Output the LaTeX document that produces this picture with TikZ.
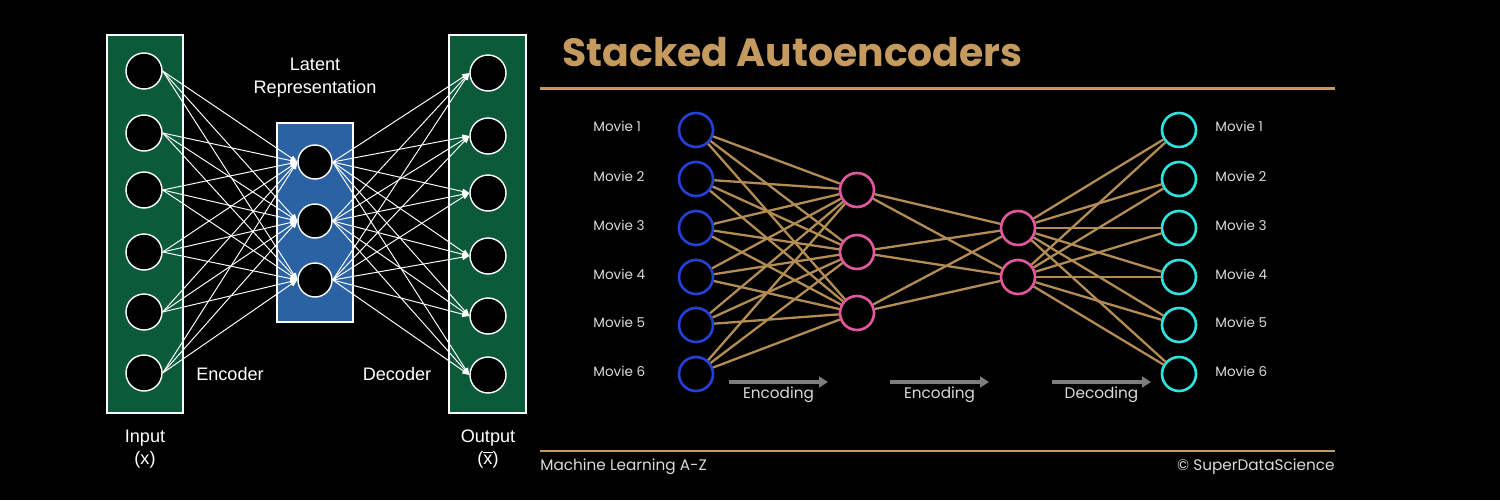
\documentclass[tikz,border=0pt]{standalone}
\usepackage{fontspec}
\newfontfamily\netfont{Liberation Sans}
\newfontfamily\slidefont{Poppins}
\usetikzlibrary{arrows.meta,positioning}
\definecolor{netgreen}{HTML}{0B5B3B}
\definecolor{netblue}{HTML}{2B62A3}
\definecolor{gold}{HTML}{C49A5E}
\definecolor{wire}{HTML}{B48D55}
\definecolor{movblue}{HTML}{2440D6}
\definecolor{hidpink}{HTML}{E2589E}
\definecolor{outcyan}{HTML}{2EE3DE}
\definecolor{slidegray}{HTML}{DADADA}
\definecolor{arrgray}{HTML}{7E7E7E}

\begin{document}
\begin{tikzpicture}[
  x=0.02cm, y=-0.02cm,
  lnode/.style={circle, draw=white, line width=0.8pt, fill=black,
                minimum size=0.72cm, inner sep=0pt},
  layer/.style={draw=white, line width=0.6pt},
  lwire/.style={white, line width=0.55pt, -{Triangle[length=4pt, width=3.2pt]}},
  ltext/.style={text=white, font=\netfont\fontsize{10.3}{12}\selectfont,
                inner sep=0pt, anchor=base},
  rnode/.style={circle, line width=1.5pt, fill=black,
                minimum size=0.68cm, inner sep=0pt},
  rwire/.style={wire, line width=1.3pt},
  mtext/.style={text=slidegray, font=\slidefont\fontsize{7.7}{9}\selectfont,
                inner sep=0pt, anchor=base west},
  ctext/.style={text=slidegray, font=\slidefont\fontsize{8.7}{10}\selectfont,
                inner sep=0pt, anchor=base},
  flow/.style={arrgray, line width=1.9pt, -{Triangle[length=5pt, width=6pt]}}]
\fill[black] (0,0) rectangle (1500,500);
\useasboundingbox (0,0) rectangle (1500,500);

% plain autoencoder
\draw[layer, fill=netgreen] (107,35) rectangle (183,413);
\draw[layer, fill=netblue] (277,123) rectangle (353,322);
\draw[layer, fill=netgreen] (449,35) rectangle (526,413);
\foreach \i/\y in {1/71, 2/133, 3/190, 4/252, 5/312, 6/373}
  \node[lnode] (in\i) at (144,\y) {};
\foreach \i/\y in {1/73, 2/136, 3/193, 4/256, 5/316, 6/375}
  \node[lnode] (out\i) at (488,\y) {};
\foreach \j/\y in {1/162, 2/221, 3/280}
  \node[lnode, minimum size=0.68cm] (lat\j) at (315,\y) {};
\foreach \i in {1,...,6}
  \foreach \j in {1,2,3} {
    \draw[lwire] (in\i.east) -- (lat\j.west);
    \draw[lwire] (lat\j.east) -- (out\i.west);
  }
\node[ltext] (latent) at (315,71) {Latent};
\node[ltext] (repr) at (315,93) {Representation};
\node[ltext] (enc) at (230,380) {Encoder};
\node[ltext] (dec) at (397,380) {Decoder};
\node[ltext] (inlab) at (145,442) {Input};
\node[ltext] (inx) at (145,464) {(x)};
\node[ltext] (outlab) at (488,442) {Output};
\node[ltext] (outx) at (488,464) {($\overline{\mbox{x}}$)};

% stacked autoencoder slide
\node[text=gold, font=\slidefont\bfseries\fontsize{22.4}{26}\selectfont,
      inner sep=0pt, anchor=base west] (title) at (562,67) {Stacked Autoencoders};
\draw[gold, line width=2.2pt] (540,88.5) -- (1335,88.5);
\draw[gold, line width=1pt] (540,451) -- (1335,451);
\node[text=slidegray, font=\slidefont\fontsize{8.7}{10}\selectfont,
      inner sep=0pt, anchor=base west] (course) at (540,470) {Machine Learning A-Z};
\node[text=slidegray, font=\slidefont\fontsize{8.7}{10}\selectfont,
      inner sep=0pt, anchor=base east] (brand) at (1335,470) {\textcopyright{} SuperDataScience};

\foreach \i/\y in {1/130, 2/179, 3/228, 4/277, 5/325, 6/374} {
  \node[rnode, draw=movblue] (mv\i) at (696,\y) {};
  \node[rnode, draw=outcyan] (rc\i) at (1179,\y) {};
  \node[mtext] (ml\i) at (593,\y+2) {Movie \i};
  \node[mtext] (mr\i) at (1215,\y+2) {Movie \i};
}
\foreach \j/\y in {1/190, 2/252, 3/313}
  \node[rnode, draw=hidpink] (ha\j) at (857,\y) {};
\foreach \k/\y in {1/228, 2/277}
  \node[rnode, draw=hidpink] (hb\k) at (1018,\y) {};

\foreach \i in {1,...,6}
  \foreach \j in {1,2,3}
    \draw[rwire] (mv\i) -- (ha\j);
\foreach \j in {1,2,3}
  \foreach \k in {1,2}
    \draw[rwire] (ha\j) -- (hb\k);
\foreach \k in {1,2}
  \foreach \i in {1,...,6}
    \draw[rwire] (hb\k) -- (rc\i);

% flow arrows
\foreach \n/\a/\b/\t in {e1/729/828/Encoding, e2/890/989/Encoding, d1/1052/1151/Decoding} {
  \coordinate (\n s) at (\a,382);
  \coordinate (\n t) at (\b,382);
  \draw[flow] (\n s) -- (\n t);
  \node[ctext] (\n lab) at ({(\a+\b)/2},398) {\t};
}
\end{tikzpicture}
\end{document}
